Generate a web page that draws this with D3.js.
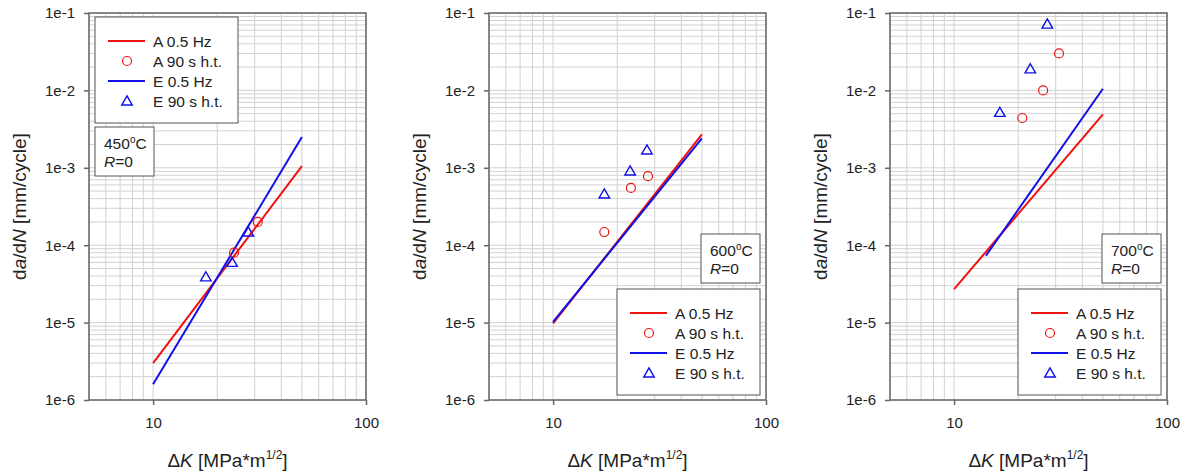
<!DOCTYPE html>
<html>
<head>
<meta charset="utf-8">
<script src="https://cdn.jsdelivr.net/npm/d3@7"></script>
<style>
  html, body { margin: 0; padding: 0; background: #fff; }
  svg { display: block; font-family: "Liberation Sans", Arial, sans-serif; }
</style>
</head>
<body>
<div id="chart"></div>
<script>
// axis ticks
const xTicks = [10, 100];
const yTicks = [1e-6, 1e-5, 1e-4, 1e-3, 1e-2, 1e-1];
const yTickLabels = ['1e-6', '1e-5', '1e-4', '1e-3', '1e-2', '1e-1'];

const temps = ['450', '600', '700'];
const seriesNames = ['A 0.5 Hz', 'A 90 s h.t.', 'E 0.5 Hz', 'E 90 s h.t.'];

// fitted Paris lines [ΔK, da/dN]
const aLine = [
  [[10, 3.0e-6], [50, 1.05e-3]],
  [[10, 9.8e-6], [50, 2.7e-3]],
  [[10, 2.7e-5], [50, 4.9e-3]]
];
const eLine = [
  [[10, 1.6e-6], [50, 2.5e-3]],
  [[10, 1.02e-5], [50, 2.4e-3]],
  [[14.1, 7.3e-5], [50, 1.05e-2]]
];
// 90 s hold time points
const aPoints = [
  [[24, 8e-5], [31, 2.0e-4]],
  [[17.4, 1.48e-4], [23.2, 5.5e-4], [27.9, 7.8e-4]],
  [[20.9, 4.4e-3], [26.2, 1.0e-2], [31.1, 3.0e-2]]
];
const ePoints = [
  [[17.7, 3.9e-5], [23.5, 6e-5], [28, 1.48e-4]],
  [[17.4, 4.6e-4], [23, 9.1e-4], [27.6, 1.7e-3]],
  [[16.4, 5.2e-3], [22.8, 1.9e-2], [27.4, 7.2e-2]]
];

const W = 1185, H = 474;
const red = '#f01010', blue = '#1010e8';
const pw = 277, ph = 387, plotTop = 13;
const lefts = [89, 489, 890];

const svg = d3.select('#chart').append('svg')
  .attr('width', W).attr('height', H);

const x = d3.scaleLog().domain([5, 100]).range([0, pw]);
const y = d3.scaleLog().domain([1e-6, 1e-1]).range([ph, 0]);

const xMinor = d3.range(5, 10).concat(d3.range(10, 101, 10));
const yMinor = [];
for (let e = -6; e < -1; e++) for (let k = 1; k < 10; k++) yMinor.push(k * Math.pow(10, e));
yMinor.push(1e-1);

const line = d3.line().x(d => x(d[0])).y(d => y(d[1]));

function legend(g, lx, ly) {
  const lg = g.append('g').attr('transform', `translate(${lx},${ly})`);
  lg.append('rect').attr('width', 143).attr('height', 106)
    .attr('fill', '#fff').attr('stroke', '#555').attr('stroke-width', 1);
  seriesNames.forEach((name, i) => {
    const cy = 24 + i * 20;
    const col = i < 2 ? red : blue;
    if (i % 2 === 0) {
      lg.append('line').attr('x1', 13).attr('x2', 50).attr('y1', cy).attr('y2', cy)
        .attr('stroke', col).attr('stroke-width', 2);
    } else if (i === 1) {
      lg.append('circle').attr('cx', 32).attr('cy', cy).attr('r', 4.5)
        .attr('fill', 'none').attr('stroke', col).attr('stroke-width', 1.2);
    } else {
      lg.append('path').attr('d', d3.symbol(d3.symbolTriangle, 48)())
        .attr('transform', `translate(32,${cy + 1})`)
        .attr('fill', 'none').attr('stroke', col).attr('stroke-width', 1.4);
    }
    lg.append('text').attr('x', 58).attr('y', cy + 5.5)
      .attr('font-size', 15.5).attr('fill', '#222').text(name);
  });
}

function infoBox(g, bx, by, temp) {
  const ib = g.append('g').attr('transform', `translate(${bx},${by})`);
  ib.append('rect').attr('width', 59).attr('height', 49)
    .attr('fill', '#fff').attr('stroke', '#555').attr('stroke-width', 1);
  const t1 = ib.append('text').attr('x', 9).attr('y', 22).attr('font-size', 15.5).attr('fill', '#222');
  t1.append('tspan').text(temp);
  t1.append('tspan').attr('font-size', 10).attr('dy', -6).text('o');
  t1.append('tspan').attr('dy', 6).text('C');
  const t2 = ib.append('text').attr('x', 9).attr('y', 40).attr('font-size', 15.5).attr('fill', '#222');
  t2.append('tspan').attr('font-style', 'italic').text('R');
  t2.append('tspan').text('=0');
}

temps.forEach((temp, p) => {
  const g = svg.append('g').attr('transform', `translate(${lefts[p]},${plotTop})`);

  // grid
  g.append('g').selectAll('line').data(xMinor).join('line')
    .attr('x1', d => x(d)).attr('x2', d => x(d)).attr('y1', 0).attr('y2', ph)
    .attr('stroke', '#d2d2d2').attr('stroke-width', 1);
  g.append('g').selectAll('line').data(yMinor).join('line')
    .attr('x1', 0).attr('x2', pw).attr('y1', d => y(d)).attr('y2', d => y(d))
    .attr('stroke', '#d2d2d2').attr('stroke-width', 1);

  // axes
  const xAxis = g.append('g').attr('transform', `translate(0,${ph})`)
    .call(d3.axisBottom(x).tickValues(xTicks).tickFormat(d3.format('d')).tickSize(5).tickPadding(12));
  const yAxis = g.append('g')
    .call(d3.axisLeft(y).tickValues(yTicks).tickFormat((d, i) => yTickLabels[i]).tickSize(5).tickPadding(9));
  [xAxis, yAxis].forEach(a => {
    a.select('.domain').remove();
    a.selectAll('line').attr('stroke', '#666').attr('stroke-width', 1.5);
    a.selectAll('text').attr('font-size', 15).attr('fill', '#222')
      .style('font-family', '"Liberation Sans", Arial, sans-serif');
  });

  g.append('rect').attr('width', pw).attr('height', ph)
    .attr('fill', 'none').attr('stroke', '#666').attr('stroke-width', 1.5);

  // fitted lines
  g.append('path').datum(aLine[p]).attr('d', line)
    .attr('fill', 'none').attr('stroke', red).attr('stroke-width', 2);
  g.append('path').datum(eLine[p]).attr('d', line)
    .attr('fill', 'none').attr('stroke', blue).attr('stroke-width', 2);

  // hold time points
  g.append('g').selectAll('circle').data(aPoints[p]).join('circle')
    .attr('cx', d => x(d[0])).attr('cy', d => y(d[1])).attr('r', 4.5)
    .attr('fill', 'none').attr('stroke', red).attr('stroke-width', 1.2);
  g.append('g').selectAll('path').data(ePoints[p]).join('path')
    .attr('d', d3.symbol(d3.symbolTriangle, 48)())
    .attr('transform', d => `translate(${x(d[0])},${y(d[1]) + 1})`)
    .attr('fill', 'none').attr('stroke', blue).attr('stroke-width', 1.4);

  // legend + info box
  if (p === 0) {
    legend(g, 6, 4);
    infoBox(g, 6, 114, temp);
  } else {
    legend(g, pw - 149, 276);
    infoBox(g, pw - 65, 221, temp);
  }

  // axis titles
  const xt = g.append('text').attr('x', pw / 2).attr('y', 454)
    .attr('text-anchor', 'middle').attr('font-size', 19).attr('fill', '#222');
  xt.append('tspan').text('Δ');
  xt.append('tspan').attr('font-style', 'italic').text('K');
  xt.append('tspan').text(' [MPa*m');
  xt.append('tspan').attr('font-size', 12).attr('dy', -8).text('1/2');
  xt.append('tspan').attr('dy', 8).text(']');

  const yt = g.append('text')
    .attr('transform', `translate(-63,${ph / 2}) rotate(-90)`)
    .attr('text-anchor', 'middle').attr('font-size', 19).attr('fill', '#222');
  yt.append('tspan').text('d');
  yt.append('tspan').attr('font-style', 'italic').text('a');
  yt.append('tspan').text('/d');
  yt.append('tspan').attr('font-style', 'italic').text('N');
  yt.append('tspan').text(' [mm/cycle]');
});
</script>
</body>
</html>
